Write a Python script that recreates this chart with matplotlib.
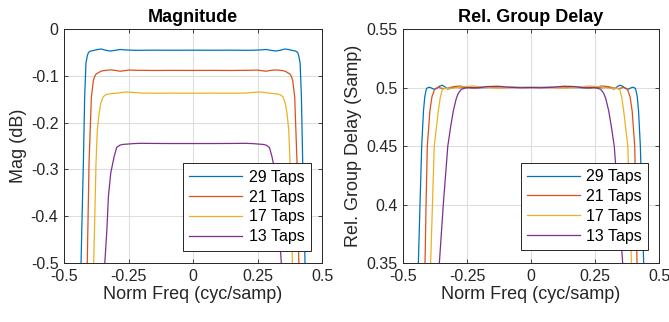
import matplotlib
matplotlib.use("Agg")
import matplotlib.pyplot as plt

# --- data ---

labels = ["29 Taps", "21 Taps", "17 Taps", "13 Taps"]
colors = ["#0072BD", "#D95319", "#EDB120", "#7E2F8E"]

# Magnitude (dB) vs normalized frequency
mag_f29 = [-0.45, -0.434, -0.43, -0.425, -0.42, -0.415, -0.41, -0.406, -0.402, -0.395, -0.385,
           -0.37, -0.355, -0.34, -0.322, -0.30, -0.283, -0.26, -0.22, -0.15, -0.08, 0.0,
           0.08, 0.15, 0.22, 0.26, 0.283, 0.30, 0.322, 0.34, 0.355, 0.37, 0.385, 0.395,
           0.402, 0.406, 0.41, 0.415, 0.42, 0.425, 0.43, 0.434, 0.45]
mag_29 = [-0.72, -0.5, -0.40, -0.286, -0.145, -0.073, -0.058, -0.051, -0.0485, -0.0468, -0.0458,
          -0.0438, -0.0428, -0.0452, -0.047, -0.0455, -0.0437, -0.0448, -0.0455, -0.0452, -0.0454, -0.0452,
          -0.0454, -0.0452, -0.0455, -0.0448, -0.0437, -0.0455, -0.047, -0.0452, -0.0428, -0.0438, -0.0458, -0.0468,
          -0.0485, -0.051, -0.058, -0.073, -0.145, -0.286, -0.40, -0.5, -0.72]

mag_f21 = [-0.43, -0.41, -0.403, -0.394, -0.386, -0.38, -0.375, -0.367, -0.358, -0.348, -0.33,
           -0.315, -0.30, -0.283, -0.265, -0.25, -0.22, -0.15, -0.08, 0.0,
           0.08, 0.15, 0.22, 0.25, 0.265, 0.283, 0.30, 0.315, 0.33, 0.348, 0.358,
           0.367, 0.375, 0.38, 0.386, 0.394, 0.403, 0.41, 0.43]
mag_21 = [-0.75, -0.5, -0.286, -0.145, -0.109, -0.1, -0.096, -0.0934, -0.0905, -0.089, -0.0878,
          -0.0875, -0.0885, -0.0902, -0.089, -0.0877, -0.0882, -0.0886, -0.0884, -0.0885,
          -0.0884, -0.0886, -0.0882, -0.0877, -0.089, -0.0902, -0.0885, -0.0875, -0.0878, -0.089, -0.0905,
          -0.0934, -0.096, -0.1, -0.109, -0.145, -0.286, -0.5, -0.75]

mag_f17 = [-0.405, -0.385, -0.376, -0.371, -0.364, -0.358, -0.352, -0.348, -0.338, -0.328, -0.31,
           -0.296, -0.275, -0.257, -0.23, -0.205, -0.15, -0.08, 0.0,
           0.08, 0.15, 0.205, 0.23, 0.257, 0.275, 0.296, 0.31, 0.328, 0.338, 0.348,
           0.352, 0.358, 0.364, 0.371, 0.376, 0.385, 0.405]
mag_17 = [-0.75, -0.5, -0.286, -0.216, -0.18, -0.16, -0.15, -0.1446, -0.1405, -0.139, -0.1378,
          -0.1372, -0.1355, -0.1346, -0.1355, -0.1368, -0.1372, -0.137, -0.1372,
          -0.137, -0.1372, -0.1368, -0.1355, -0.1346, -0.1355, -0.1372, -0.1378, -0.139, -0.1405, -0.1446,
          -0.15, -0.16, -0.18, -0.216, -0.286, -0.5, -0.75]

mag_f13 = [-0.36, -0.342, -0.334, -0.328, -0.319, -0.306, -0.296, -0.283, -0.27, -0.257, -0.23,
           -0.205, -0.15, -0.08, 0.0,
           0.08, 0.15, 0.205, 0.23, 0.257, 0.27, 0.283, 0.296, 0.306, 0.319, 0.328,
           0.334, 0.342, 0.36]
mag_13 = [-0.7, -0.5, -0.43, -0.358, -0.308, -0.273, -0.253, -0.248, -0.2465, -0.246, -0.2448,
          -0.2443, -0.2445, -0.2447, -0.2447,
          -0.2447, -0.2445, -0.2443, -0.2448, -0.246, -0.2465, -0.248, -0.253, -0.273, -0.308, -0.358,
          -0.43, -0.5, -0.7]

# Relative group delay (samples) vs normalized frequency
gd_f29 = [-0.45, -0.44, -0.4336, -0.427, -0.42, -0.415, -0.41, -0.4074, -0.402, -0.395, -0.387,
          -0.378, -0.368, -0.357, -0.346, -0.336, -0.326, -0.315, -0.30, -0.28, -0.25, -0.2, -0.12, 0.0,
          0.12, 0.2, 0.25, 0.28, 0.30, 0.315, 0.326, 0.336, 0.346, 0.357, 0.368, 0.378,
          0.387, 0.395, 0.402, 0.4074, 0.41, 0.415, 0.42, 0.427, 0.4336, 0.44, 0.45]
gd_29 = [0.25, 0.35, 0.40, 0.45, 0.48, 0.492, 0.4975, 0.4993, 0.5, 0.5002, 0.4993,
         0.4985, 0.4993, 0.5012, 0.5019, 0.5005, 0.4987, 0.4992, 0.5005, 0.4998, 0.5003, 0.4998, 0.5002, 0.5,
         0.5002, 0.4998, 0.5003, 0.4998, 0.5005, 0.4992, 0.4987, 0.5005, 0.5019, 0.5012, 0.4993, 0.4985,
         0.4993, 0.5002, 0.5, 0.4993, 0.4975, 0.492, 0.48, 0.45, 0.40, 0.35, 0.25]

gd_f21 = [-0.43, -0.414, -0.41, -0.405, -0.395, -0.387, -0.3776, -0.37, -0.362, -0.352, -0.34,
          -0.325, -0.30, -0.277, -0.255, -0.23, -0.18, -0.12, 0.0,
          0.12, 0.18, 0.23, 0.255, 0.277, 0.30, 0.325, 0.34, 0.352, 0.362, 0.37,
          0.3776, 0.387, 0.395, 0.405, 0.41, 0.414, 0.43]
gd_21 = [0.25, 0.35, 0.40, 0.45, 0.48, 0.492, 0.4979, 0.4995, 0.5002, 0.4995, 0.499,
         0.4995, 0.5008, 0.5013, 0.5004, 0.4995, 0.5003, 0.4998, 0.5,
         0.4998, 0.5003, 0.4995, 0.5004, 0.5013, 0.5008, 0.4995, 0.499, 0.4995, 0.5002, 0.4995,
         0.4979, 0.492, 0.48, 0.45, 0.40, 0.35, 0.25]

gd_f17 = [-0.41, -0.392, -0.385, -0.378, -0.362, -0.354, -0.3465, -0.336, -0.325, -0.30, -0.26,
          -0.225, -0.19, -0.14, -0.08, 0.0,
          0.08, 0.14, 0.19, 0.225, 0.26, 0.30, 0.325, 0.336, 0.3465, 0.354, 0.362,
          0.378, 0.385, 0.392, 0.41]
gd_17 = [0.25, 0.35, 0.40, 0.45, 0.48, 0.492, 0.4985, 0.4993, 0.4993, 0.4995, 0.5008,
         0.5013, 0.5003, 0.4995, 0.5002, 0.5,
         0.5002, 0.4995, 0.5003, 0.5013, 0.5008, 0.4995, 0.4993, 0.4993, 0.4985, 0.492, 0.48,
         0.45, 0.40, 0.35, 0.25]

gd_f13 = [-0.375, -0.358, -0.3426, -0.325, -0.3135, -0.3035, -0.292, -0.284, -0.272, -0.258, -0.24,
          -0.21, -0.17, -0.13, -0.09, -0.04, 0.0,
          0.04, 0.09, 0.13, 0.17, 0.21, 0.24, 0.258, 0.272, 0.284, 0.292, 0.3035,
          0.3135, 0.325, 0.3426, 0.358, 0.375]
gd_13 = [0.25, 0.35, 0.40, 0.45, 0.467, 0.48, 0.4905, 0.495, 0.4985, 0.4995, 0.4998,
         0.4997, 0.5008, 0.5011, 0.5003, 0.4998, 0.5,
         0.4998, 0.5003, 0.5011, 0.5008, 0.4997, 0.4998, 0.4995, 0.4985, 0.495, 0.4905, 0.48,
         0.467, 0.45, 0.40, 0.35, 0.25]

x_ticks = [-0.5, -0.25, 0, 0.25, 0.5]
x_ticklabels = ["-0.5", "-0.25", "0", "0.25", "0.5"]
mag_ticks = [-0.5, -0.4, -0.3, -0.2, -0.1, 0]
mag_ticklabels = ["-0.5", "-0.4", "-0.3", "-0.2", "-0.1", "0"]
gd_ticks = [0.35, 0.4, 0.45, 0.5, 0.55]
gd_ticklabels = ["0.35", "0.4", "0.45", "0.5", "0.55"]

# --- MATLAB-ish look ---
plt.rcParams["font.family"] = ["Liberation Sans", "DejaVu Sans"]
plt.rcParams["axes.unicode_minus"] = False

fig = plt.figure(figsize=(6.69, 3.22), dpi=100)
ax1 = fig.add_axes([0.0957, 0.1832, 0.3857, 0.7267])
ax2 = fig.add_axes([0.6024, 0.1832, 0.3827, 0.7267])

edge = "#262626"


def style(ax, yt, ytl, ylim):
    ax.set_xlim(-0.5, 0.5)
    ax.set_ylim(*ylim)
    ax.set_xticks(x_ticks)
    ax.set_xticklabels(x_ticklabels)
    ax.set_yticks(yt)
    ax.set_yticklabels(ytl)
    ax.grid(True, color="#dedede", linewidth=0.8)
    ax.set_axisbelow(True)
    ax.tick_params(direction="in", length=3, width=0.6, top=True, right=True,
                   labelsize=11.5, colors=edge, pad=4)
    for s in ax.spines.values():
        s.set_color(edge)
        s.set_linewidth(0.7)


mag_data = [(mag_f29, mag_29), (mag_f21, mag_21), (mag_f17, mag_17), (mag_f13, mag_13)]
gd_data = [(gd_f29, gd_29), (gd_f21, gd_21), (gd_f17, gd_17), (gd_f13, gd_13)]

for (f, m), c, lab in zip(mag_data, colors, labels):
    ax1.plot(f, m, color=c, lw=0.9, label=lab)
for (f, g), c, lab in zip(gd_data, colors, labels):
    ax2.plot(f, g, color=c, lw=0.9, label=lab)

style(ax1, mag_ticks, mag_ticklabels, (-0.5, 0))
style(ax2, gd_ticks, gd_ticklabels, (0.35, 0.55))

ax1.set_title("Magnitude", fontsize=13, fontweight="bold", pad=5)
ax2.set_title("Rel. Group Delay", fontsize=13, fontweight="bold", pad=5)
ax1.set_xlabel("Norm Freq (cyc/samp)", fontsize=13, color=edge, labelpad=2)
ax2.set_xlabel("Norm Freq (cyc/samp)", fontsize=13, color=edge, labelpad=2)
ax1.set_ylabel("Mag (dB)", fontsize=13, color=edge, labelpad=3)
ax2.set_ylabel("Rel. Group Delay (Samp)", fontsize=13, color=edge, labelpad=3)

for ax, anchor in [(ax1, (0.956, 0.053)), (ax2, (0.958, 0.056))]:
    leg = ax.legend(loc="lower right", bbox_to_anchor=anchor, borderaxespad=0,
                    fontsize=11.5, handlelength=3.3, labelspacing=0.3,
                    handletextpad=0.4, borderpad=0.4, fancybox=False, framealpha=1)
    leg.get_frame().set_edgecolor(edge)
    leg.get_frame().set_linewidth(0.7)

fig.savefig("out.png", dpi=100)
